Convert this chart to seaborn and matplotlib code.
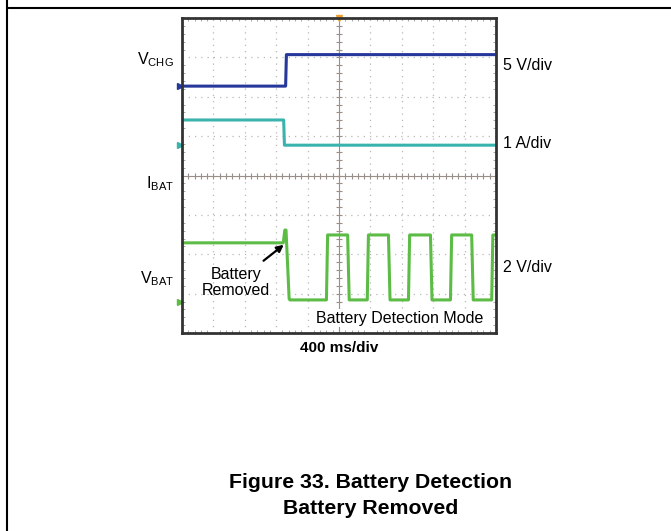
import numpy as np
import pandas as pd
import matplotlib
matplotlib.use("Agg")
import matplotlib.pyplot as plt
import seaborn as sns

sns.set_style("white")
plt.rcParams['font.family'] = ['Liberation Sans', 'DejaVu Sans']
plt.rcParams['text.color'] = 'black'

# time in ms (400 ms/div, 10 div), values in physical units
vchg_t = [0, 1320, 1330, 4000]
vchg_v = [0.0, 0.0, 4.0, 4.0]

ibat_t = [0, 1295, 1305, 4000]
ibat_a = [0.64, 0.64, 0.0, 0.0]

vbat_t = [0, 1290, 1310, 1325, 1365, 1375,
          1840, 1855, 2110, 2130,
          2360, 2375, 2630, 2650,
          2885, 2900, 3165, 3185,
          3420, 3435, 3690, 3710,
          3945, 3960, 4000]
vbat_v = [3.0, 3.0, 3.65, 3.65, 0.15, 0.1,
          0.1, 3.4, 3.4, 0.1,
          0.1, 3.4, 3.4, 0.1,
          0.1, 3.4, 3.4, 0.1,
          0.1, 3.4, 3.4, 0.1,
          0.1, 3.4, 3.4]

# channel ground position (div from bottom) and scale per div
channels = {
    "VCHG": (vchg_t, vchg_v, 6.27, 5.0, "#26389a"),
    "IBAT": (ibat_t, ibat_a, 4.77, 1.0, "#3ab3ad"),
    "VBAT": (vbat_t, vbat_v, 0.79, 2.0, "#5cbc45"),
}

fig = plt.figure(figsize=(6.71, 5.31), dpi=100)
ax = fig.add_axes([182 / 671, 1 - 333 / 531, 314 / 671, 315 / 531])

for name, (t, v, gnd, scale, col) in channels.items():
    df = pd.DataFrame({"t": np.array(t) / 400.0,
                       "div": gnd + np.array(v) / scale})
    sns.lineplot(data=df, x="t", y="div", ax=ax, color=col, lw=2.2,
                 estimator=None, sort=False)
    ax.plot([-0.07], [gnd], marker=">", ms=4, color=col, clip_on=False)

ax.set_xlim(0, 10)
ax.set_ylim(0, 8)
ax.set_xlabel("")
ax.set_ylabel("")

# graticule
for k in range(1, 10):
    if k != 5:
        ax.axvline(k, color="#b8b8b8", lw=0.9, ls=(0, (1, 4)), zorder=0)
for k in range(1, 8):
    if k != 4:
        ax.axhline(k, color="#b8b8b8", lw=0.9, ls=(0, (1, 4)), zorder=0)
ax.axvline(5, color="#9a8f88", lw=0.8, zorder=0)
ax.axhline(4, color="#9a8f88", lw=0.8, zorder=0)
mx = np.arange(0.2, 10, 0.2)
my = np.arange(0.2, 8, 0.2)
ax.plot(mx, np.full_like(mx, 4), ls="none", marker="|", ms=4, color="#9a8f88", mew=0.8, zorder=0)
ax.plot(np.full_like(my, 5), my, ls="none", marker="_", ms=4, color="#9a8f88", mew=0.8, zorder=0)
ax.plot([5], [8], marker="v", ms=4, color="#f0a030", clip_on=False)

ax.set_xticks(np.arange(0, 10.01, 1))
ax.set_yticks(np.arange(0, 8.01, 1))
ax.set_xticks(mx, minor=True)
ax.set_yticks(my, minor=True)
ax.tick_params(which="both", direction="in", top=True, right=True, bottom=True, left=True,
               labelbottom=False, labelleft=False, color="#9a9a9a")
ax.tick_params(which="major", length=0)
ax.tick_params(which="minor", length=2.5, width=0.6)
for s in ax.spines.values():
    s.set_color("#333333")
    s.set_linewidth(2)

# channel labels
fs = 11.5
fig.text(174 / 671, 1 - 60 / 531, r"V$_{\mathregular{CHG}}$", ha="right", va="center", fontsize=fs)
fig.text(174 / 671, 1 - 184 / 531, r"I$_{\mathregular{BAT}}$", ha="right", va="center", fontsize=fs)
fig.text(174 / 671, 1 - 279 / 531, r"V$_{\mathregular{BAT}}$", ha="right", va="center", fontsize=fs)
fig.text(503 / 671, 1 - 66 / 531, "5 V/div", ha="left", va="center", fontsize=fs)
fig.text(503 / 671, 1 - 144 / 531, "1 A/div", ha="left", va="center", fontsize=fs)
fig.text(503 / 671, 1 - 268 / 531, "2 V/div", ha="left", va="center", fontsize=fs)

ax.annotate("Battery\nRemoved", xy=(3.24, 2.24), xytext=(1.73, 1.29),
            ha="center", va="center", fontsize=fs, linespacing=1.1,
            arrowprops=dict(arrowstyle="-|>", color="black", lw=1.6, shrinkA=3, shrinkB=0,
                            mutation_scale=10))
ax.text(9.6, 0.38, "Battery Detection Mode", ha="right", va="center", fontsize=fs,
        bbox=dict(facecolor="white", edgecolor="none", pad=1))

fig.text(339 / 671, 1 - 348 / 531, "400 ms/div", ha="center", va="center",
         fontsize=11, fontweight="bold")
fig.text(371 / 671, 1 - 482 / 531, "Figure 33. Battery Detection", ha="center", va="center",
         fontsize=15.3, fontweight="bold")
fig.text(371 / 671, 1 - 508 / 531, "Battery Removed", ha="center", va="center",
         fontsize=15.3, fontweight="bold")

# page frame
fig.add_artist(plt.Line2D([7 / 671, 1], [1 - 8 / 531] * 2, color="black", lw=1.5))
fig.add_artist(plt.Line2D([7 / 671] * 2, [0, 1], color="black", lw=1.5))

fig.savefig("out.png", dpi=100)
